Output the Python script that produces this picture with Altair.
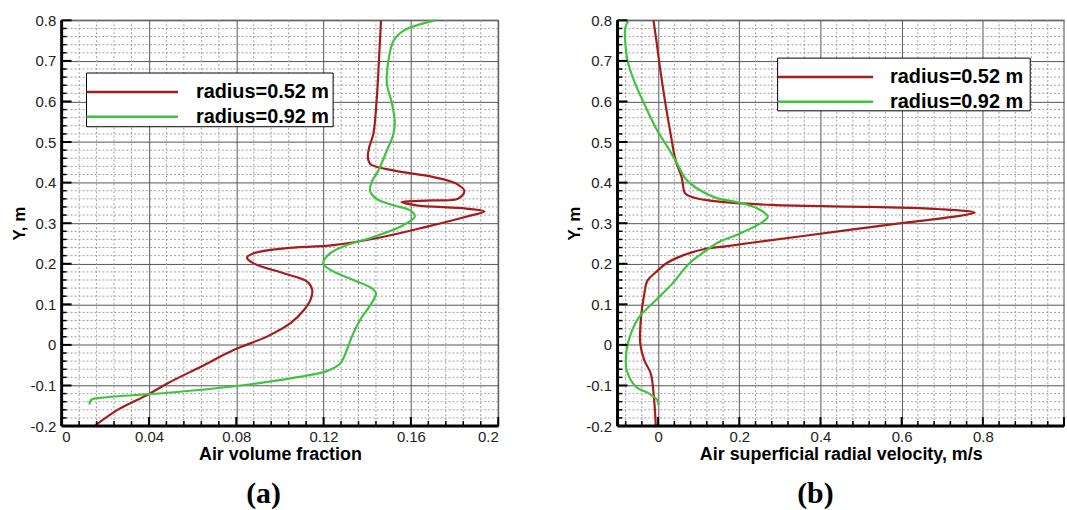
import altair as alt
import pandas as pd
import numpy as np

# ---------------- data ----------------
series_labels = ["radius=0.52 m", "radius=0.92 m"]
series_colors = ["#A51C1C", "#3FC43F"]

# Panel (a): air volume fraction
a_r052_x = [0.1463, 0.1456, 0.1443, 0.1428, 0.1409, 0.1403, 0.1414, 0.1520, 0.1700, 0.1810, 0.1845, 0.1815,
            0.1700, 0.1557, 0.1625, 0.1853, 0.1936, 0.1853, 0.1670, 0.1470, 0.1246, 0.1020, 0.0880, 0.0849,
            0.0880, 0.1020, 0.1125, 0.1148, 0.1140, 0.1110, 0.1050, 0.0943, 0.0790, 0.0640, 0.0488, 0.0397,
            0.0260, 0.0155]
a_r052_y = [0.800, 0.725, 0.602, 0.520, 0.487, 0.463, 0.446, 0.430, 0.414, 0.397, 0.379, 0.360,
            0.356, 0.352, 0.344, 0.336, 0.329, 0.316, 0.291, 0.266, 0.246, 0.238, 0.226, 0.215,
            0.201, 0.176, 0.156, 0.135, 0.111, 0.086, 0.054, 0.021, -0.012, -0.053, -0.094, -0.122,
            -0.159, -0.198]
a_r092_x = [0.1709, 0.1640, 0.1565, 0.1520, 0.1497, 0.1490, 0.1510, 0.1526, 0.1520, 0.1490, 0.1451, 0.1420,
            0.1413, 0.1443, 0.1520, 0.1595, 0.1618, 0.1565, 0.1428, 0.1307, 0.1231, 0.1198, 0.1231, 0.1337,
            0.1420, 0.1440, 0.1420, 0.1368, 0.1330, 0.1307, 0.1277, 0.1231, 0.1186, 0.1020, 0.0790, 0.0488,
            0.0185, 0.0136, 0.0127]
a_r092_y = [0.800, 0.790, 0.774, 0.749, 0.700, 0.643, 0.602, 0.553, 0.520, 0.479, 0.430, 0.401,
            0.379, 0.360, 0.344, 0.332, 0.317, 0.295, 0.266, 0.246, 0.226, 0.201, 0.185, 0.160,
            0.140, 0.127, 0.103, 0.062, 0.021, -0.012, -0.045, -0.061, -0.069, -0.085, -0.102, -0.118,
            -0.130, -0.135, -0.147]

# Panel (b): air superficial radial velocity
b_r052_x = [-0.0114, -0.0040, 0.0024, 0.0170, 0.0310, 0.0433, 0.0580, 0.0637, 0.0678, 0.0922, 0.1330, 0.2800,
            0.5250, 0.6880, 0.7800, 0.7290, 0.5660, 0.3620, 0.2390, 0.1660, 0.1170, 0.0596, 0.0188, -0.0057,
            -0.0260, -0.0340, -0.0420, -0.0440, -0.0340, -0.0180, -0.0098, -0.0057]
b_r052_y = [0.800, 0.748, 0.699, 0.601, 0.519, 0.454, 0.413, 0.380, 0.372, 0.362, 0.355, 0.345,
            0.340, 0.335, 0.326, 0.316, 0.296, 0.269, 0.253, 0.243, 0.237, 0.220, 0.200, 0.179,
            0.159, 0.126, 0.069, 0.003, -0.038, -0.071, -0.136, -0.200]
b_r092_x = [-0.0727, -0.0810, -0.0810, -0.0750, -0.0590, -0.0300, -0.0016, 0.0188, 0.0433, 0.0678, 0.0922, 0.1410,
            0.1980, 0.2470, 0.2700, 0.2560, 0.1980, 0.1490, 0.1170, 0.0760, 0.0350, -0.0057, -0.0465, -0.0670,
            -0.0776, -0.0776, -0.0547, -0.0220, -0.0016, 0.0008]
b_r092_y = [0.800, 0.781, 0.748, 0.699, 0.650, 0.585, 0.527, 0.495, 0.454, 0.409, 0.388, 0.363,
            0.351, 0.335, 0.316, 0.302, 0.273, 0.253, 0.232, 0.200, 0.151, 0.110, 0.069, 0.028,
            -0.013, -0.062, -0.103, -0.120, -0.136, -0.148]

y_ticks = [-0.2, -0.1, 0.0, 0.1, 0.2, 0.3, 0.4, 0.5, 0.6, 0.7, 0.8]
a_x_ticks = [0.0, 0.04, 0.08, 0.12, 0.16, 0.2]
b_x_ticks = [0.0, 0.2, 0.4, 0.6, 0.8]

H = 408
FONT = "Liberation Sans"


def minor_positions(start, stop, step, majors):
    vals = np.round(np.arange(start, stop + step / 2, step), 6)
    return [float(v) for v in vals if min(abs(v - m) for m in majors) > step / 4]


def panel(curves, xdom, xticks, xminor, xmajor_all, xtitle, W, legend, tag, tag_x):
    xs = alt.Scale(domain=xdom, nice=False, zero=False)
    ys = alt.Scale(domain=[-0.2, 0.8], nice=False, zero=False)

    xaxis = alt.Axis(
        values=xticks, grid=True, gridColor="#555555", gridWidth=1, ticks=False, tickSize=0,
        domain=False, labelFont=FONT, labelFontSize=15, labelColor="#222222", labelPadding=4,
        labelExpr="'' + (round(datum.value*100)/100)",
        title=xtitle, titleFont=FONT, titleFontSize=18, titleFontWeight="bold",
        titleColor="black", titlePadding=1)
    yaxis = alt.Axis(
        values=y_ticks, grid=True, gridColor="#555555", gridWidth=1, ticks=False, tickSize=0,
        domain=False, labelFont=FONT, labelFontSize=15, labelColor="#222222", labelPadding=6,
        labelExpr="'' + (round(datum.value*10)/10)",
        title="Y, m", titleFont=FONT, titleFontSize=17, titleFontWeight="bold",
        titleColor="black", titlePadding=2)

    def X(f):
        return alt.X(f, scale=xs, axis=xaxis)

    def Y(f):
        return alt.Y(f, scale=ys, axis=yaxis)

    df = pd.concat([
        pd.DataFrame({"x": xv, "y": yv, "series": lab, "i": range(len(xv))})
        for (xv, yv), lab in zip(curves, series_labels)
    ])

    y_minor = minor_positions(-0.2, 0.8, 0.02, y_ticks)

    vmin = alt.Chart(pd.DataFrame({"x": xminor})).mark_rule(
        color="#a0a0a0", strokeDash=[2, 2], strokeWidth=1).encode(x=X("x:Q"))
    hmin = alt.Chart(pd.DataFrame({"y": y_minor})).mark_rule(
        color="#a0a0a0", strokeDash=[2, 2], strokeWidth=1).encode(y=Y("y:Q"))

    # inward ticks on left and bottom axes
    ltick_major = alt.Chart(pd.DataFrame({"y": y_ticks})).mark_rule(color="black", strokeWidth=2).encode(
        y=Y("y:Q"), x=alt.value(0), x2=alt.value(10))
    ltick_minor = alt.Chart(pd.DataFrame({"y": y_minor})).mark_rule(color="black", strokeWidth=1.5).encode(
        y=Y("y:Q"), x=alt.value(0), x2=alt.value(5))
    btick_major = alt.Chart(pd.DataFrame({"x": xmajor_all})).mark_rule(color="black", strokeWidth=2).encode(
        x=X("x:Q"), y=alt.value(H), y2=alt.value(H - 9))
    btick_minor = alt.Chart(pd.DataFrame({"x": xminor})).mark_rule(color="black", strokeWidth=1.5).encode(
        x=X("x:Q"), y=alt.value(H), y2=alt.value(H - 5))

    lines = alt.Chart(df).mark_line(strokeWidth=2.2, interpolate="catmull-rom").encode(
        x=X("x:Q"),
        y=Y("y:Q"),
        color=alt.Color("series:N", scale=alt.Scale(domain=series_labels, range=series_colors), legend=None),
        order="i:Q",
    )

    one = pd.DataFrame({"a": [0]})
    left_axis = alt.Chart(one).mark_rule(color="black", strokeWidth=3).encode(
        x=alt.value(0), y=alt.value(0), y2=alt.value(H))
    bottom_axis = alt.Chart(one).mark_rule(color="black", strokeWidth=3).encode(
        x=alt.value(0), x2=alt.value(W), y=alt.value(H))

    lx0, lx1, ly0, ly1, line_end, text_x, row_y = legend
    box = alt.Chart(one).mark_rect(fill="white", stroke="black", strokeWidth=1).encode(
        x=alt.value(lx0), x2=alt.value(lx1), y=alt.value(ly0), y2=alt.value(ly1))
    leg = [box]
    for lab, col, ry in zip(series_labels, series_colors, row_y):
        d = pd.DataFrame({"label": [lab]})
        leg.append(alt.Chart(d).mark_rule(color=col, strokeWidth=2.5).encode(
            x=alt.value(lx0), x2=alt.value(line_end), y=alt.value(ry)))
        leg.append(alt.Chart(d).mark_text(align="left", baseline="middle", font=FONT, fontSize=20,
                                          fontWeight="bold", color="black").encode(
            x=alt.value(text_x), y=alt.value(ry), text="label:N"))

    tag_mark = alt.Chart(pd.DataFrame({"t": [tag]})).mark_text(
        align="center", baseline="alphabetic", font="Liberation Serif", fontSize=30,
        fontWeight="bold", color="black").encode(x=alt.value(tag_x), y=alt.value(485), text="t:N")

    return alt.layer(vmin, hmin, lines, ltick_minor, ltick_major, btick_minor, btick_major,
                     left_axis, bottom_axis, *leg, tag_mark).properties(width=W, height=H)


a_minor = minor_positions(0.0, 0.2, 0.008, a_x_ticks)
b_minor = minor_positions(-0.08, 1.0, 0.04, b_x_ticks + [1.0])

left = panel([(a_r052_x, a_r052_y), (a_r092_x, a_r092_y)], [0.0, 0.2], a_x_ticks, a_minor, a_x_ticks,
             "Air volume fraction", 439, (25, 273, 53, 107, 117, 135, [72, 97]), "(a)", 203)
right = panel([(b_r052_x, b_r052_y), (b_r092_x, b_r092_y)], [-0.1, 1.0], b_x_ticks, b_minor,
              b_x_ticks + [1.0], "Air superficial radial velocity, m/s", 449,
              (161, 415, 38, 91, 257, 274, [57, 82]), "(b)", 199)

chart = alt.hconcat(left, right, spacing=120, bounds="flush").properties(
    padding={"left": 9, "top": 11, "right": 0, "bottom": 0},
    background="white",
).configure_view(stroke="#888888", strokeWidth=1.5)

chart.save("out.html", embed_options={"renderer": "svg", "actions": False})
